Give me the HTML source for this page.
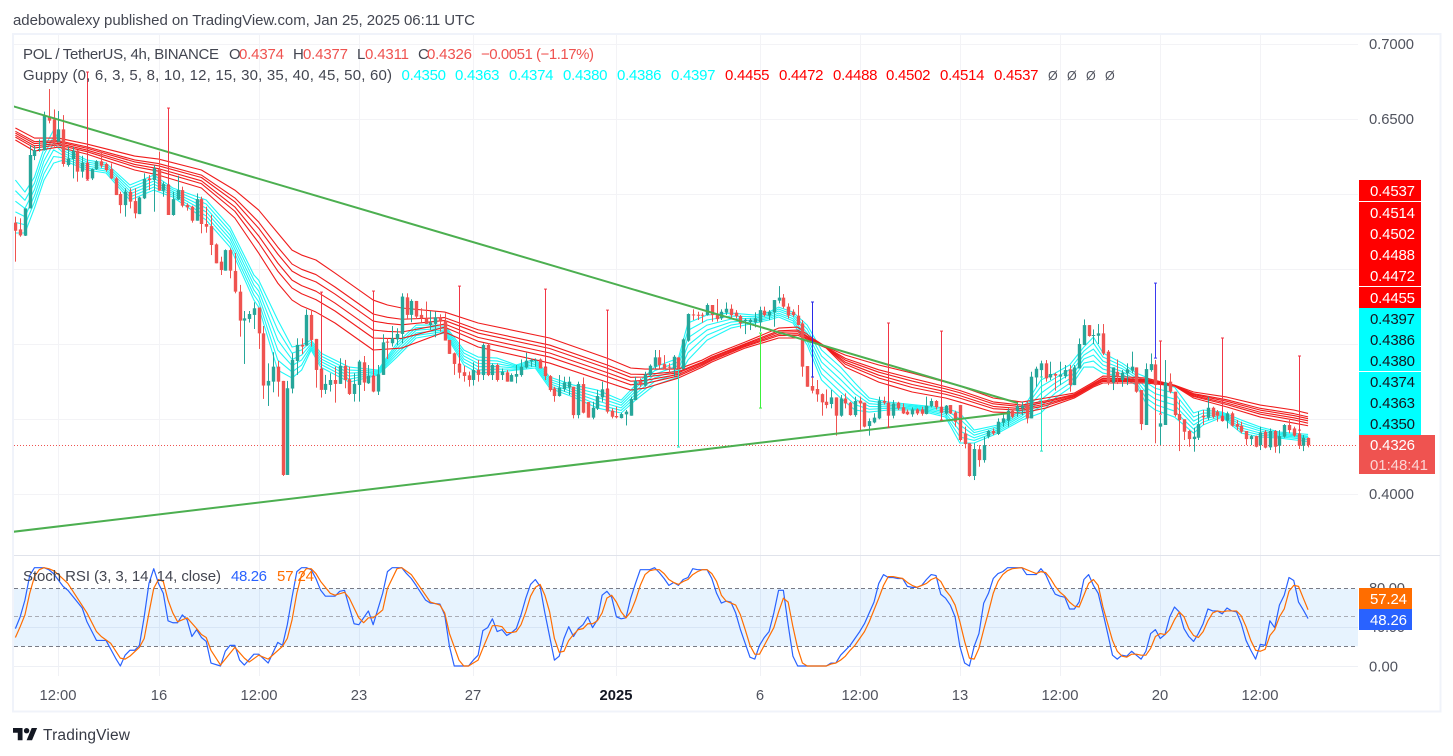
<!DOCTYPE html>
<html lang="en">
<head>
<meta charset="utf-8">
<title>POL / TetherUS chart</title>
<style>
html,body{margin:0;padding:0;background:#fff;width:1453px;height:756px;overflow:hidden}
svg{display:block}
text{font-family:"Liberation Sans",sans-serif;font-size:15px;fill:#434651}
.tag{fill:#fff;font-size:15px}
.dark{fill:#131722;font-size:15px}
.ax{font-size:14.8px;fill:#50535e}
.nul{font-size:12.5px;fill:#50535e}
</style>
</head>
<body>
<svg id="chart" xmlns="http://www.w3.org/2000/svg" width="1453" height="756" viewBox="0 0 1453 756">
  <defs>
    <clipPath id="mainClip"><rect x="14" y="35" width="1344" height="520"/></clipPath>
    <clipPath id="stochClip"><rect x="14" y="557" width="1344" height="119"/></clipPath>
  </defs>
  <text x="13" y="25" textLength="462">adebowalexy published on TradingView.com, Jan 25, 2025 06:11 UTC</text>
  <rect x="13" y="34" width="1427.5" height="677.5" fill="none" stroke="#f0f3fa" stroke-width="2"/>
  <g id="gridLayer"></g>
  <rect x="14" y="588.7" width="1344" height="57.6" fill="#2196f3" fill-opacity="0.11"/>
  <line x1="14" x2="1440" y1="555.5" y2="555.5" stroke="#e0e3eb" stroke-width="1"/>
  <g clip-path="url(#mainClip)">
    <g id="priceLayer"></g>
  </g>
  <g clip-path="url(#stochClip)">
    <g id="stochLayer"></g>
  </g>
  <g id="axisLayer"></g>

  <g>
    <text x="23" y="59" textLength="196">POL / TetherUS, 4h, BINANCE</text>
    <text x="229" y="59">O</text>
    <text x="239" y="59" textLength="45" style="fill:#ef5350">0.4374</text>
    <text x="293" y="59">H</text>
    <text x="303" y="59" textLength="45" style="fill:#ef5350">0.4377</text>
    <text x="357" y="59">L</text>
    <text x="365" y="59" textLength="44" style="fill:#ef5350">0.4311</text>
    <text x="418" y="59">C</text>
    <text x="427" y="59" textLength="45" style="fill:#ef5350">0.4326</text>
    <text x="481" y="59" textLength="113" style="fill:#ef5350">−0.0051 (−1.17%)</text>
  </g>
  <g>
    <text x="23" y="80" textLength="369">Guppy (0, 6, 3, 5, 8, 10, 12, 15, 30, 35, 40, 45, 50, 60)</text>
    <g style="fill:#00ffff">
      <text x="401.5" y="80" textLength="44.5" style="fill:#00ffff">0.4350</text>
      <text x="455" y="80" textLength="44.5" style="fill:#00ffff">0.4363</text>
      <text x="509" y="80" textLength="44.5" style="fill:#00ffff">0.4374</text>
      <text x="563" y="80" textLength="44.5" style="fill:#00ffff">0.4380</text>
      <text x="617" y="80" textLength="44.5" style="fill:#00ffff">0.4386</text>
      <text x="671" y="80" textLength="44.5" style="fill:#00ffff">0.4397</text>
    </g>
    <text x="725" y="80" textLength="44.5" style="fill:#ff0000">0.4455</text>
    <text x="779" y="80" textLength="44.5" style="fill:#ff0000">0.4472</text>
    <text x="833" y="80" textLength="44.5" style="fill:#ff0000">0.4488</text>
    <text x="886" y="80" textLength="44.5" style="fill:#ff0000">0.4502</text>
    <text x="940" y="80" textLength="44.5" style="fill:#ff0000">0.4514</text>
    <text x="994" y="80" textLength="44.5" style="fill:#ff0000">0.4537</text>
    <text class="nul" x="1048" y="80">Ø</text>
    <text class="nul" x="1067" y="80">Ø</text>
    <text class="nul" x="1086" y="80">Ø</text>
    <text class="nul" x="1105" y="80">Ø</text>
  </g>
  <g>
    <text x="23" y="581" textLength="198">Stoch RSI (3, 3, 14, 14, close)</text>
    <text x="231" y="581" textLength="36" style="fill:#2962ff">48.26</text>
    <text x="277" y="581" textLength="37" style="fill:#ff6d00">57.24</text>
  </g>

  <g>
    <rect x="1359" y="180" width="62" height="21" fill="#ff0000"/>
    <rect x="1359" y="202" width="62" height="84" fill="#ff0000"/>
    <rect x="1359" y="287" width="62" height="21" fill="#ff0000"/>
    <rect x="1359" y="308" width="62" height="63" fill="#00ffff"/>
    <rect x="1359" y="372" width="62" height="63" fill="#00ffff"/>
    <rect x="1359" y="435" width="76" height="39" fill="#ef5350"/>
    <text class="tag" x="1370" y="196" textLength="45">0.4537</text>
    <text class="tag" x="1370" y="218" textLength="45">0.4514</text>
    <text class="tag" x="1370" y="239" textLength="45">0.4502</text>
    <text class="tag" x="1370" y="260" textLength="45">0.4488</text>
    <text class="tag" x="1370" y="281" textLength="45">0.4472</text>
    <text class="tag" x="1370" y="303" textLength="45">0.4455</text>
    <text class="dark" x="1370" y="324" textLength="45">0.4397</text>
    <text class="dark" x="1370" y="345" textLength="45">0.4386</text>
    <text class="dark" x="1370" y="366" textLength="45">0.4380</text>
    <text class="dark" x="1370" y="387" textLength="45">0.4374</text>
    <text class="dark" x="1370" y="408" textLength="45">0.4363</text>
    <text class="dark" x="1370" y="429" textLength="45">0.4350</text>
    <text class="tag" x="1370" y="450" textLength="45">0.4326</text>
    <text class="tag" x="1370" y="470" textLength="58" style="fill:#fbd5d4">01:48:41</text>
  </g>

  <g>
    <path transform="translate(13,725.3) scale(.68)" fill="#131722" d="M14 22H7V11H0V4h14v18zM28 22h-8l7.5-18h8L28 22z"/>
    <circle cx="26.6" cy="730.7" r="2.7" fill="#131722"/>
    <text x="43" y="740" textLength="87" style="font-size:15.5px;fill:#363a45">TradingView</text>
  </g>
</svg>

<script>
// Prices are in ten-thousandths (4374 = 0.4374).
var candleOpen = [
5809,5764,5722,5904,6253,6293,6293,6515,6498,6349,
6431,6193,6233,6289,6149,6209,6104,6166,6218,6200,
6166,6104,6000,5926,6015,5953,5866,5971,6104,6093,
6166,6022,6060,5860,5964,6026,5926,5915,5822,5966,
5800,5786,5664,5549,5489,5626,5487,5349,5156,5167,
5194,5243,5071,4723,4749,4849,4754,4127,4703,4887,
4994,4989,5194,5034,4834,4694,4727,4760,4734,4854,
4765,4667,4727,4878,4738,4787,4683,4794,5016,5005,
5031,5067,5311,5194,5287,5194,5167,5127,5134,5178,
5156,5027,4938,4867,4812,4791,4760,4827,4793,4993,
4793,4860,4793,4811,4749,4782,4793,4844,4884,4889,
4897,4849,4786,4704,4653,4700,4709,4715,4526,4733,
4613,4509,4569,4644,4700,4555,4520,4506,4531,4522,
4626,4753,4722,4793,4849,4911,4866,4849,4837,4911,
4833,5022,5197,5195,5195,5193,5260,5193,5171,5209,
5235,5209,5186,5153,5146,5144,5144,5222,5189,5211,
5289,5309,5249,5215,5189,5137,4853,4720,4700,4666,
4615,4600,4644,4522,4637,4609,4526,4622,4609,4453,
4477,4504,4620,4609,4522,4609,4578,4549,4531,4564,
4564,4533,4586,4620,4582,4537,4593,4544,4593,4404,
4338,4120,4298,4226,4382,4420,4400,4475,4489,4555,
4551,4571,4593,4504,4777,4826,4871,4777,4800,4782,
4786,4831,4726,4837,4993,5126,5055,5055,5071,4949,
4744,4815,4760,4804,4822,4844,4693,4460,4826,4864,
4449,4460,4749,4682,4533,4498,4420,4366,4375,4522,
4509,4575,4549,4522,4489,4538,4466,4455,4420,4366,
4386,4326,4415,4311,4420,4322,4382,4460,4437,4404,4322,4374];
var candleHigh = [
5849,5838,5904,6326,6322,6364,6549,6700,6564,6553,
6526,6315,6315,6293,6255,6249,6171,6226,6289,6209,
6204,6115,6015,6038,6038,6038,5982,6138,6126,6193,
6282,6082,6075,6015,6122,6049,5938,5922,6004,5982,
5915,5860,5671,5582,5631,5638,5607,5394,5220,5220,
5278,5243,5120,4871,4945,4887,4754,4754,4938,5038,
5038,5231,5220,5034,4849,4794,4805,4849,4905,4894,
4849,4805,4894,4920,4860,4860,4860,5065,5038,5120,
5105,5338,5338,5298,5287,5238,5283,5220,5216,5198,
5205,5027,4943,4883,4854,4816,4878,4894,5004,5004,
4871,4871,4837,4826,4804,4860,4897,4942,4904,4904,
4904,4860,4793,4715,4793,4782,4782,4715,4749,4777,
4613,4615,4693,4749,4715,4571,4582,4542,4560,4649,
4782,4771,4815,4864,4960,4960,4926,4871,4926,4911,
5038,5204,5231,5215,5209,5271,5260,5300,5231,5277,
5264,5226,5193,5171,5171,5211,5249,5249,5226,5293,
5386,5333,5271,5231,5260,5160,4853,4782,4760,4671,
4697,4693,4644,4660,4671,4615,4649,4649,4609,4504,
4538,4649,4649,4637,4626,4615,4604,4564,4578,4571,
4582,4649,4637,4626,4593,4593,4593,4555,4593,4449,
4338,4338,4326,4382,4426,4437,4504,4531,4571,4564,
4604,4615,4615,4815,4849,4889,4893,4882,4809,4882,
4860,4860,4860,5037,5164,5126,5097,5133,5133,4960,
4844,4897,4826,4871,4949,4844,4693,4871,4937,4893,
4526,4893,4804,4682,4626,4498,4426,4442,4549,4560,
4649,4582,4560,4538,4549,4549,4493,4482,4420,4393,
4389,4449,4426,4437,4426,4426,4466,4493,4449,4426,4393,4377];
var candleLow = [
5549,5715,5720,5904,6226,6282,6289,6471,6315,6349,
6182,6182,6104,6082,6109,6093,6093,6160,6175,6149,
6100,5993,5871,5849,5904,5838,5866,5966,6026,5882,
6022,5982,5860,5855,5960,5911,5889,5809,5822,5738,
5742,5593,5538,5460,5489,5438,5338,5049,4867,5143,
5100,4967,4634,4587,4678,4649,4120,4127,4671,4794,
4934,4989,4983,4709,4643,4667,4683,4609,4734,4705,
4660,4616,4616,4687,4734,4678,4660,4794,4900,4983,
4994,5005,5171,5145,5167,5145,5134,5094,5045,5083,
5023,4934,4794,4771,4749,4716,4723,4749,4760,4786,
4760,4749,4760,4749,4749,4738,4782,4837,4849,4849,
4837,4760,4682,4615,4649,4682,4660,4504,4504,4537,
4509,4498,4560,4615,4537,4504,4504,4504,4457,4522,
4626,4715,4715,4782,4837,4837,4831,4800,4782,4826,
4833,5015,5160,5160,5142,5189,5149,5149,5160,5193,
5171,5171,5104,5066,5093,5111,5082,5182,5160,5115,
5271,5237,5171,5182,5126,4782,4715,4671,4615,4522,
4571,4571,4389,4515,4571,4522,4515,4426,4444,4389,
4471,4498,4597,4449,4504,4560,4533,4526,4515,4526,
4522,4531,4578,4564,4493,4526,4533,4449,4349,4304,
4115,4093,4182,4209,4371,4393,4393,4449,4449,4504,
4515,4526,4471,4504,4715,4738,4749,4760,4689,4726,
4771,4682,4726,4837,4993,5049,5000,5000,4926,4726,
4693,4733,4715,4726,4804,4675,4426,4460,4815,4338,
4326,4460,4671,4515,4286,4360,4315,4282,4360,4460,
4493,4504,4482,4482,4437,4449,4426,4404,4326,4326,
4311,4293,4304,4293,4275,4271,4375,4404,4382,4300,4286,4311];
var candleClose = [
5755,5724,5904,6260,6293,6300,6520,6489,6349,6431,
6200,6237,6289,6149,6209,6100,6166,6218,6189,6160,
6104,5993,5926,6015,5949,5871,5977,6100,6093,6171,
6022,6066,5860,5966,6026,5922,5911,5822,5966,5800,
5782,5660,5538,5493,5626,5489,5349,5156,5171,5200,
5238,5071,4723,4754,4849,4749,4127,4705,4894,4994,
4983,5194,5027,4827,4694,4734,4760,4734,4854,4760,
4667,4734,4883,4743,4787,4683,4798,5011,5009,5038,
5067,5316,5194,5287,5183,5171,5134,5143,5178,5149,
5023,4934,4867,4809,4787,4760,4827,4794,4993,4793,
4860,4760,4815,4749,4793,4800,4849,4889,4893,4893,
4837,4786,4693,4653,4709,4744,4749,4526,4733,4542,
4509,4575,4653,4698,4549,4515,4511,4533,4549,4633,
4753,4726,4797,4855,4911,4860,4833,4842,4915,4837,
5031,5200,5191,5189,5191,5260,5193,5166,5215,5235,
5193,5186,5137,5162,5162,5171,5226,5193,5215,5293,
5309,5249,5189,5193,5126,4849,4715,4689,4664,4611,
4593,4644,4522,4637,4604,4526,4620,4604,4449,4486,
4509,4622,4609,4522,4604,4571,4537,4531,4564,4537,
4535,4589,4620,4578,4542,4589,4537,4482,4360,4333,
4120,4300,4226,4326,4420,4404,4482,4504,4555,4515,
4586,4589,4504,4782,4835,4871,4771,4800,4789,4797,
4826,4726,4844,5000,5126,5053,5060,5071,4937,4737,
4844,4782,4809,4831,4849,4682,4466,4833,4866,4726,
4471,4744,4682,4526,4493,4415,4366,4382,4466,4511,
4575,4515,4522,4486,4538,4455,4449,4415,4366,4386,
4315,4411,4309,4420,4315,4386,4460,4426,4389,4322,4375,4326];

// Guppy fast ribbon (cyan), read at these bars
var fastBars = [0,2,4,6,8,10,15,19,24,29,33,40,45,50,51,55,58,60,62,64,70,76,80,84,90,94,97,101,105,109,112,117,122,127,130,134,139,141,145,150,155,158,160,163,166,169,173,176,179,183,189,195,198,201,206,211,215,218,221,224,226,228,232,235,237,239,243,247,249,253,257,261,265,271];
var fast1 = [6093,6013,6113,6306,6426,6306,6226,6206,6060,6126,6040,5960,5780,5460,5426,5160,4980,4993,5026,4940,4846,4826,5006,5126,5126,4960,4913,4906,4860,4900,4780,4726,4693,4626,4726,4846,4906,5140,5193,5206,5193,5213,5246,5213,5126,4960,4846,4740,4640,4613,4593,4573,4540,4426,4460,4560,4760,4806,4860,4980,5046,4940,4873,4806,4780,4740,4713,4540,4560,4546,4493,4446,4413,4397];
var fast2 = [6022,5958,6072,6263,6382,6290,6213,6193,6040,6106,6028,5933,5753,5427,5390,5093,4939,4960,5013,4921,4826,4819,4987,5109,5115,4940,4892,4887,4853,4888,4765,4710,4669,4609,4706,4822,4881,5091,5160,5186,5182,5202,5233,5198,5099,4920,4805,4704,4621,4602,4586,4561,4500,4409,4449,4547,4716,4773,4829,4953,5006,4913,4854,4790,4745,4704,4673,4513,4540,4539,4476,4433,4405,4386];
var fast3 = [5952,5904,6030,6221,6338,6274,6200,6180,6020,6086,6016,5906,5726,5393,5354,5026,4897,4926,5000,4902,4806,4813,4969,5092,5105,4920,4870,4869,4846,4876,4750,4694,4645,4592,4686,4798,4856,5041,5126,5166,5172,5192,5220,5184,5073,4880,4763,4668,4602,4592,4580,4549,4460,4392,4439,4533,4672,4740,4798,4926,4966,4886,4836,4774,4710,4668,4633,4486,4520,4533,4459,4420,4397,4380];
var fast4 = [5881,5849,5989,6178,6294,6258,6186,6166,6000,6066,6004,5880,5700,5360,5318,4960,4856,4893,4986,4884,4786,4806,4950,5074,5094,4900,4849,4850,4840,4864,4736,4678,4621,4574,4666,4774,4830,4992,5093,5146,5161,5181,5206,5169,5046,4840,4722,4632,4584,4581,4573,4537,4420,4374,4428,4520,4628,4706,4768,4900,4926,4860,4817,4758,4676,4632,4593,4460,4500,4526,4441,4406,4389,4374];
var fast5 = [5811,5795,5947,6136,6250,6242,6173,6153,5980,6046,5992,5853,5673,5326,5282,4893,4814,4859,4973,4865,4766,4800,4932,5057,5084,4880,4827,4832,4833,4852,4721,4662,4597,4557,4646,4750,4805,4942,5059,5126,5151,5171,5193,5155,5020,4800,4680,4596,4565,4571,4567,4525,4380,4357,4417,4506,4584,4673,4737,4873,4886,4833,4799,4742,4641,4596,4553,4433,4480,4520,4424,4393,4381,4363];
var fast6 = [5740,5740,5906,6093,6206,6226,6160,6140,5960,6026,5980,5826,5646,5293,5246,4826,4773,4826,4960,4846,4746,4793,4913,5040,5073,4860,4806,4813,4826,4840,4706,4646,4573,4540,4626,4726,4780,4893,5026,5106,5140,5160,5180,5140,4993,4760,4640,4560,4546,4560,4560,4513,4340,4340,4406,4493,4540,4640,4706,4846,4846,4806,4780,4726,4606,4560,4513,4406,4460,4513,4406,4380,4373,4350];

// Guppy slow ribbon (red), read at these bars
var slowBars = [0,4,9,15,25,30,39,46,51,55,58,60,63,67,75,78,81,90,97,112,124,129,132,139,144,146,153,160,164,167,170,174,181,188,195,198,205,211,216,222,226,228,233,237,243,247,254,261,268,271];
var slow1 = [6440,6373,6373,6333,6253,6233,6160,6026,5893,5740,5626,5593,5560,5473,5293,5260,5240,5213,5140,5040,4906,4840,4833,4833,4893,4926,5013,5106,5113,5040,4980,4926,4860,4806,4746,4720,4640,4613,4640,4673,4746,4786,4780,4773,4726,4680,4646,4593,4560,4537];
var slow2 = [6418,6349,6356,6314,6227,6203,6126,5974,5813,5646,5533,5498,5463,5380,5200,5178,5165,5176,5095,4993,4861,4799,4797,4816,4880,4913,5002,5088,5093,5032,4978,4904,4828,4771,4716,4690,4614,4593,4621,4664,4737,4773,4769,4764,4724,4669,4628,4571,4536,4514];
var slow3 = [6406,6336,6348,6305,6214,6188,6110,5948,5772,5600,5486,5450,5414,5333,5153,5137,5128,5157,5073,4970,4839,4778,4780,4808,4873,4907,4996,5078,5082,5029,4977,4892,4812,4753,4701,4675,4601,4582,4612,4659,4732,4767,4763,4759,4723,4663,4618,4559,4523,4502];
var slow4 = [6392,6321,6337,6293,6197,6169,6088,5914,5721,5540,5426,5389,5352,5273,5093,5084,5080,5133,5044,4940,4810,4752,4757,4797,4865,4898,4989,5066,5069,5024,4976,4878,4792,4730,4682,4656,4584,4569,4600,4653,4726,4758,4756,4753,4722,4656,4606,4545,4508,4488];
var slow5 = [6379,6307,6327,6282,6182,6152,6069,5885,5675,5486,5373,5335,5296,5220,5040,5037,5037,5112,5018,4913,4784,4728,4736,4787,4857,4891,4983,5056,5058,5019,4975,4865,4773,4710,4665,4639,4569,4558,4589,4648,4721,4751,4750,4748,4721,4650,4596,4532,4494,4472];
var slow6 = [6360,6286,6313,6266,6160,6126,6040,5840,5606,5406,5293,5253,5213,5140,4960,4966,4973,5080,4980,4873,4746,4693,4706,4773,4846,4880,4973,5040,5040,5013,4973,4846,4746,4680,4640,4613,4546,4540,4573,4640,4713,4740,4740,4740,4720,4640,4580,4513,4473,4455];

// Drawn vertical annotation lines
var spikeBars = [15,32,64,75,93,111,124,139,156,167,183,194,215,239,240,253,269];
var spikeTop = [6813,6573,5346,5353,5386,5366,5226,4826,5073,5280,5140,5086,4780,5406,5020,5040,4920];
var spikeBottom = [6093,6060,4833,4786,4866,4846,4700,4313,4573,4780,4446,4493,4286,4906,4533,4493,4426];
var spikeColors = ["#f23645","#f23645","#f23645","#f23645","#f23645","#f23645","#f23645","#26e6c4","#3cf03c","#2a2ae8","#f23645","#f23645","#26e6c4","#3a3af0","#f23645","#f23645","#f23645"];

// Green trendlines: bar and price at each end
var resistanceBars = [-1, 210.2];
var resistancePrices = [6590, 4606];
var supportBars = [-0.5, 208.5];
var supportPrices = [3748, 4540];

var lastPrice = 4326;

// Stochastic RSI %K
var kBars = [0,1,2,3,4,6,7,8,10,11,14,15,17,18,19,21,22,23,24,25,
26,27,28,29,30,31,32,33,34,35,36,37,38,39,40,41,43,44,45,46,
47,48,50,51,53,55,56,57,58,59,60,61,62,63,64,65,67,68,69,71,
72,74,75,77,78,79,81,82,83,84,86,87,89,90,91,92,95,96,97,98,
99,100,101,102,103,104,105,106,107,108,109,110,111,112,113,114,115,116,117,118,
119,120,121,122,123,124,125,126,127,128,129,130,131,132,133,134,135,136,137,138,
139,140,141,142,143,144,145,146,147,148,149,150,151,152,153,154,155,156,157,158,
159,160,161,162,163,164,170,171,172,173,174,175,176,177,178,179,180,181,182,183,
184,185,186,187,188,189,190,191,192,193,194,195,196,197,198,199,200,201,202,203,
204,205,206,207,208,211,212,214,215,216,217,218,219,220,221,222,223,224,225,226,
227,228,229,230,231,232,233,234,235,236,237,238,239,240,241,242,243,244,245,246,
247,248,249,250,251,252,253,254,255,256,257,258,259,260,261,262,263,264,265,266,
267,268,269,270,271];
var kValues = [38,50,67,92,100,100,98,94,81,77,59,45,26,26,26,8,0,11,16,16,
21,50,84,99,84,74,46,44,44,52,47,30,37,29,25,3,0,15,21,21,
6,1,12,12,3,24,21,42,70,96,100,100,98,89,77,71,71,76,77,43,
42,56,42,74,96,100,100,94,89,82,67,64,63,52,20,0,0,6,11,36,
39,48,35,37,31,34,38,52,69,83,88,81,54,30,6,10,28,40,30,38,
42,50,39,47,72,76,70,50,48,49,69,84,98,98,98,100,95,89,82,85,
82,88,90,99,98,98,98,89,74,64,66,65,54,37,23,9,7,21,29,35,
54,77,77,42,10,0,0,3,3,11,16,21,28,35,43,54,65,84,93,90,
90,89,89,81,80,80,82,88,93,92,73,69,62,50,20,3,0,20,33,64,
74,89,94,96,100,100,93,93,99,93,82,73,71,70,58,58,65,88,93,82,
74,54,33,11,7,11,10,15,11,7,15,33,37,28,32,50,60,55,38,30,
25,33,43,58,56,56,53,59,56,55,43,26,16,7,22,21,46,39,62,72,
90,87,65,57,48.26];

// Stochastic RSI %D
var dBars = [0,1,2,3,4,5,6,7,8,9,11,13,15,17,18,20,22,23,24,26,
27,28,29,30,31,32,33,34,36,38,39,40,41,43,45,46,48,49,51,53,
56,57,58,59,60,61,62,63,64,66,67,69,70,72,73,74,75,77,78,80,
81,83,85,87,89,90,91,93,94,95,96,97,98,100,101,102,103,104,105,106,
107,108,109,110,111,112,113,114,115,116,117,118,119,120,121,122,123,124,125,126,
127,128,129,130,131,132,133,134,135,136,137,138,139,140,141,142,143,144,145,146,
147,148,149,150,151,152,153,154,155,156,157,158,159,160,161,162,163,164,165,166,
170,171,172,173,174,175,176,177,178,179,180,181,182,183,184,185,186,187,188,189,
190,191,192,193,194,195,196,197,198,199,200,201,202,203,204,205,206,207,208,209,
211,212,213,214,215,216,217,218,219,220,221,222,223,224,225,226,227,228,229,230,
231,232,233,234,235,236,237,238,239,240,241,242,243,244,245,246,247,248,249,250,
251,252,253,254,255,256,257,258,259,260,261,262,263,264,265,266,267,268,269,270,271];
var dValues = [29,40,52,74,91,98,100,99,97,93,84,69,54,35,30,23,8,7,10,19,
28,54,79,88,86,67,54,45,49,38,32,29,16,1,13,19,8,4,11,7,
20,28,47,74,93,99,99,94,86,74,72,75,69,49,44,49,49,57,79,99,
100,93,79,65,62,54,33,6,0,0,3,6,18,41,41,40,34,34,35,42,
55,71,80,83,72,55,28,14,15,26,32,37,38,43,43,46,54,69,72,65,
55,49,55,67,82,93,97,98,98,94,88,85,83,86,88,93,96,98,98,94,
86,72,66,64,62,52,37,21,12,12,21,30,39,55,69,65,40,18,3,0,
0,2,3,6,10,16,21,28,35,45,57,69,82,91,91,90,89,85,82,80,
82,84,88,90,86,77,71,62,45,25,8,7,18,37,55,74,86,93,97,99,
100,98,96,94,96,95,89,81,75,71,65,61,60,72,84,88,82,60,43,26,
15,10,9,12,12,11,11,18,30,33,32,37,47,55,50,38,31,29,35,46,
54,56,55,56,56,56,51,40,26,16,15,17,31,37,50,58,76,82,81,69,57.24];

// Axis labels
var priceTicks = [7000,6500,6000,5500,5000,4500,4000];
var priceTickLabels = ["0.7000","0.6500","","","","","0.4000"];
var stochTicks = [80,40,0];
var stochTickLabels = ["80.00","40.00","0.00"];
var stochUpperBand = 78.6;
var stochMiddleBand = 50;
var stochLowerBand = 20;
var timeTickBars = [9,30,51,72,96,126,156,177,198,219,240,261];
var timeTickLabels = ["12:00","16","12:00","23","27","2025","6","12:00","13","12:00","20","12:00"];

var NS = "http://www.w3.org/2000/svg";
function barX(i){ return 15.4 + 4.77 * i; }
function priceY(v){ return 44 + (7000 - v) * 0.15; }
function stochY(v){ return 666 - 0.983 * v; }
function mk(tag, attrs, parent){
  var el = document.createElementNS(NS, tag);
  for (var k in attrs) el.setAttribute(k, attrs[k]);
  parent.appendChild(el);
  return el;
}
function polyPoints(bars, vals, yFn){
  var pts = [];
  for (var i = 0; i < bars.length && i < vals.length; i++){
    pts.push(barX(bars[i]).toFixed(2) + "," + yFn(vals[i]).toFixed(2));
  }
  return pts.join(" ");
}

var grid = document.getElementById("gridLayer");
var plot = document.getElementById("priceLayer");
var stoch = document.getElementById("stochLayer");
var axes = document.getElementById("axisLayer");

// grid lines
priceTicks.forEach(function(t){
  var y = Math.round(priceY(t)) + 0.5;
  var gl = mk("line", {x1:14, x2:1358, y1:y, y2:y, stroke:"#f3f3f6", "stroke-width":1}, grid);
  
  
});
timeTickBars.forEach(function(b){
  var x = Math.round(barX(b)) + 0.5;
  var top = mk("line", {x1:x, x2:x, y1:35, y2:555, stroke:"#f3f3f6", "stroke-width":1}, grid);
  
  
  var bot = mk("line", {x1:x, x2:x, y1:556, y2:676, stroke:"#f0f1f5", "stroke-width":1}, grid);
  
  
});
stochTicks.forEach(function(t){
  var y = Math.round(stochY(t)) + 0.5;
  if (t === 80) return;
  var gl = mk("line", {x1:14, x2:1358, y1:y, y2:y, stroke:"#eef0f5", "stroke-width":1}, grid);
  
  
});

// guppy ribbons
[fast1, fast2, fast3, fast4, fast5, fast6].forEach(function(s){
  var l = mk("polyline", {points:polyPoints(fastBars, s, priceY), fill:"none", stroke:"#1ff7f7", "stroke-width":1.1, "stroke-linejoin":"round"}, plot);
  
  
});
[slow1, slow2, slow3, slow4, slow5, slow6].forEach(function(s){
  var l = mk("polyline", {points:polyPoints(slowBars, s, priceY), fill:"none", stroke:"#f01c1c", "stroke-width":1.1, "stroke-linejoin":"round"}, plot);
  
  
});

// last price line
var lastY = Math.round(priceY(lastPrice)) + 0.5;
var lastLine = mk("line", {x1:14, x2:1358, y1:lastY, y2:lastY, stroke:"#ef5350", "stroke-width":1, "stroke-dasharray":"1 2"}, plot);



// candles
candleOpen.forEach(function(o, i){
  var c = candleClose[i], h = candleHigh[i], l = candleLow[i];
  var col = c >= o ? "#26a69a" : "#ef5350";
  var x = Math.round(barX(i));
  var g = mk("g", {}, plot);
  
  
  mk("rect", {x:x, y:priceY(h), width:1, height:Math.max(1, priceY(l) - priceY(h)), fill:col}, g);
  var top = priceY(Math.max(o, c)), bot = priceY(Math.min(o, c));
  mk("rect", {x:x - 1.2, y:top, width:3.4, height:Math.max(1, bot - top), fill:col}, g);
});

// trendlines
var res = mk("line", {x1:barX(resistanceBars[0]), y1:priceY(resistancePrices[0]), x2:barX(resistanceBars[1]), y2:priceY(resistancePrices[1]), stroke:"#4caf50", "stroke-width":2}, plot);


var sup = mk("line", {x1:barX(supportBars[0]), y1:priceY(supportPrices[0]), x2:barX(supportBars[1]), y2:priceY(supportPrices[1]), stroke:"#4caf50", "stroke-width":2}, plot);



// drawn spikes with end caps
spikeBars.forEach(function(b, i){
  var x = Math.round(barX(b)) + 0.5;
  var yt = priceY(spikeTop[i]), yb = priceY(spikeBottom[i]);
  var g = mk("g", {stroke:spikeColors[i], "stroke-width":1}, plot);
  
  
  mk("line", {x1:x, x2:x, y1:yt, y2:yb}, g);
  mk("line", {x1:x - 1.5, x2:x + 1.5, y1:yt, y2:yt}, g);
  mk("line", {x1:x - 1.5, x2:x + 1.5, y1:yb, y2:yb}, g);
});

// stoch bands and lines
[[stochUpperBand, "#787b86", "stoch-upper-band"], [stochMiddleBand, "#a9acb5", "stoch-middle-band"], [stochLowerBand, "#787b86", "stoch-lower-band"]].forEach(function(b){
  var y = Math.round(stochY(b[0]) - 0.5) + 0.5;
  var l = mk("line", {x1:14, x2:1358, y1:y, y2:y, stroke:b[1], "stroke-width":1, "stroke-dasharray":"4 3"}, stoch);
  
  
});
var kLine = mk("polyline", {points:polyPoints(kBars, kValues, stochY), fill:"none", stroke:"#2962ff", "stroke-width":1.2, "stroke-linejoin":"round"}, stoch);


var dLine = mk("polyline", {points:polyPoints(dBars, dValues, stochY), fill:"none", stroke:"#ff6d00", "stroke-width":1.2, "stroke-linejoin":"round"}, stoch);



// axis labels
priceTickLabels.forEach(function(txt, i){
  if (!txt) return;
  var t = mk("text", {x:1369, y:priceY(priceTicks[i]) + 5, textLength:45, "class":"ax"}, axes);
  t.textContent = txt;
  
  
});
stochTickLabels.forEach(function(txt, i){
  var t = mk("text", {x:1369, y:stochY(stochTicks[i]) + 5.5, textLength:txt.length === 5 ? 36 : 29, "class":"ax"}, axes);
  t.textContent = txt;
  
  
});
timeTickLabels.forEach(function(txt, i){
  var t = mk("text", {x:Math.round(barX(timeTickBars[i])), y:700, "text-anchor":"middle", "class":"ax"}, axes);
  t.textContent = txt;
  if (txt === "2025") { t.style.fontWeight = "bold"; t.style.fill = "#131722"; }
  
  
});

// stoch value tags sit above the axis labels
var tagD = mk("rect", {x:1359, y:588, width:53, height:21, fill:"#ff6d00"}, axes);


var tagK = mk("rect", {x:1359, y:609, width:53, height:21, fill:"#2962ff"}, axes);


var tagDText = mk("text", {x:1370, y:604, textLength:37, "class":"tag"}, axes);
tagDText.textContent = "57.24";


var tagKText = mk("text", {x:1370, y:625, textLength:37, "class":"tag"}, axes);
tagKText.textContent = "48.26";


</script>
</body>
</html>
